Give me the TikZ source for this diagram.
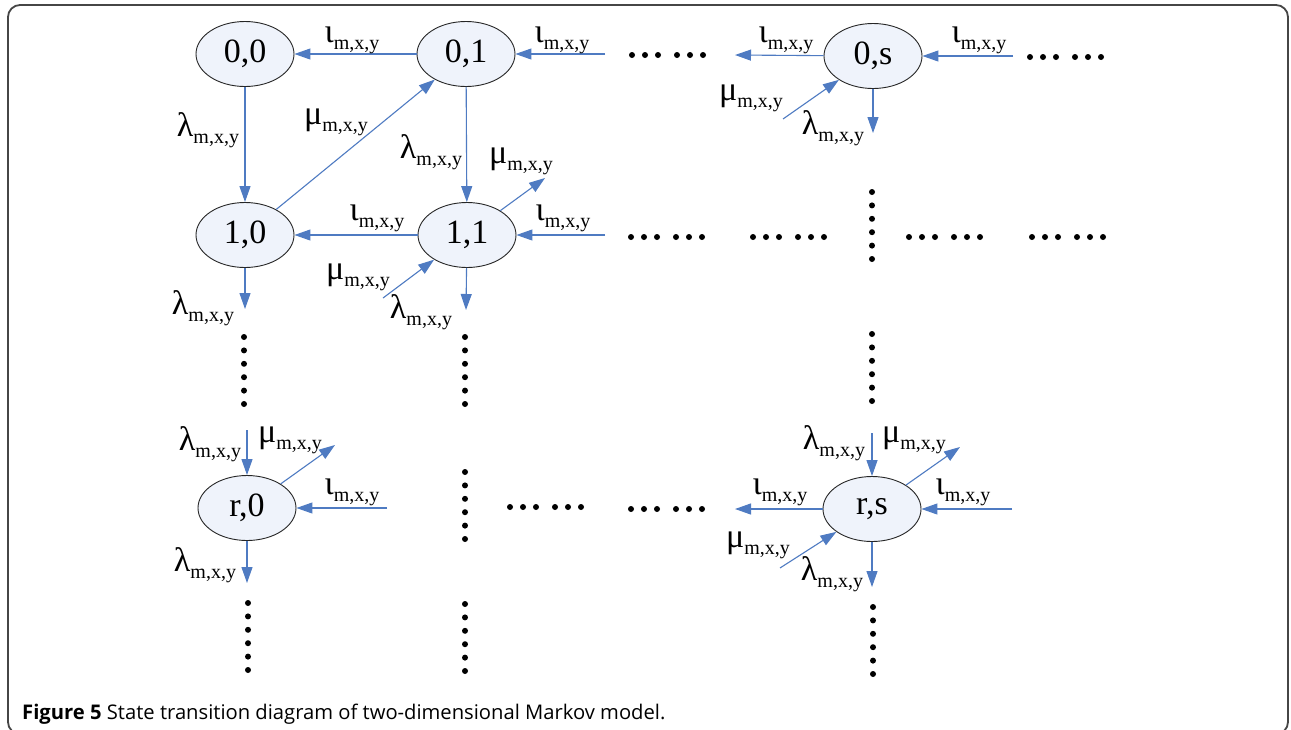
\documentclass[tikz,border=0pt]{standalone}
\usepackage{fontspec}
\setmainfont{Liberation Serif}
\newfontfamily\capfont{Open Sans}
\usetikzlibrary{shapes.geometric,arrows.meta}
\definecolor{arrowblue}{RGB}{79,123,194}
\definecolor{nodefill}{RGB}{239,243,251}
\definecolor{framegray}{RGB}{70,70,70}
\newcommand\rlab[1]{{\fontsize{34}{34}\selectfont #1}\raisebox{-7pt}{\fontsize{20}{20}\selectfont m,x,y}}
\newcommand\hdotrow[2]{\foreach \d in {0,13,26,45,58,71}{\fill (#1+\d,#2) circle[radius=3];}}
\newcommand\vdotcol[2]{\foreach \d in {0,13.4,26.8,40.2,53.6,67}{\fill (#1,#2+\d) circle[radius=3];}}
\tikzset{
  state/.style={ellipse, draw=black!85, line width=0.9pt, fill=nodefill,
    minimum width=98pt, minimum height=65pt, inner sep=0pt,
    font=\fontsize{34}{34}\selectfont},
  arr/.style={draw=arrowblue, line width=1.1pt, -{Triangle[length=16pt,width=11pt]}},
  lab/.style={inner sep=0pt, anchor=center}
}
\begin{document}
\begin{tikzpicture}[x=1pt,y=-1pt]
\useasboundingbox (0,0) rectangle (1291,729);
\fill[white] (0,0) rectangle (1291,729);
\begin{scope}
\clip (0,0) rectangle (1291,729);
\draw[framegray, line width=1.8pt, rounded corners=12pt] (8,5) rectangle (1288,734);
\end{scope}

% states
\node[state] (n00) at (245,54) {0,0};
\node[state] (n01) at (466,54) {0,1};
\node[state] (n10) at (245,235) {1,0};
\node[state] (n11) at (467,235) {1,1};
\node[state] (n0s) at (873,56) {0,s};
\node[state] (nr0) at (247,508) {r,0};
\node[state] (nrs) at (872,509) {r,s};

% free ends
\coordinate (a1) at (605,54);
\coordinate (a2) at (605,235);
\coordinate (a3) at (545,178);
\coordinate (a4) at (383,298);
\coordinate (a5) at (466,310);
\coordinate (a6) at (245,309);
\coordinate (b1) at (735,55);
\coordinate (b2) at (1013,56);
\coordinate (b3) at (783,119);
\coordinate (b4) at (873,133);
\coordinate (c1) at (247,430);
\coordinate (c2) at (335,445);
\coordinate (c3) at (387,508);
\coordinate (c4) at (247,583);
\coordinate (d1) at (872,433);
\coordinate (d2) at (960,447);
\coordinate (d3) at (735,509);
\coordinate (d4) at (1012,509);
\coordinate (d5) at (780,568);
\coordinate (d6) at (872,587);

% connectors
\draw[arr] (n01) -- (n00);
\draw[arr] (a1) -- (n01);
\draw[arr] (n00) -- (n10);
\draw[arr] (n10) -- (n01);
\draw[arr] (n01) -- (n11);
\draw[arr] (n11) -- (a3);
\draw[arr] (n11) -- (n10);
\draw[arr] (a2) -- (n11);
\draw[arr] (a4) -- (n11);
\draw[arr] (n11) -- (a5);
\draw[arr] (n10) -- (a6);
\draw[arr] (n0s) -- (b1);
\draw[arr] (b2) -- (n0s);
\draw[arr] (b3) -- (n0s);
\draw[arr] (n0s) -- (b4);
\draw[arr] (c1) -- (nr0);
\draw[arr] (nr0) -- (c2);
\draw[arr] (c3) -- (nr0);
\draw[arr] (nr0) -- (c4);
\draw[arr] (d1) -- (nrs);
\draw[arr] (nrs) -- (d2);
\draw[arr] (nrs) -- (d3);
\draw[arr] (d4) -- (nrs);
\draw[arr] (d5) -- (nrs);
\draw[arr] (nrs) -- (d6);

% labels
\node[lab] (l1) at (352,40) {\rlab{ι}};
\node[lab] (l2) at (562,40) {\rlab{ι}};
\node[lab] (l3) at (208,130) {\rlab{λ}};
\node[lab] (l4) at (336,122) {\rlab{μ}};
\node[lab] (l5) at (431,152) {\rlab{λ}};
\node[lab] (l6) at (521,161) {\rlab{μ}};
\node[lab] (l7) at (377,218) {\rlab{ι}};
\node[lab] (l8) at (563,218) {\rlab{ι}};
\node[lab] (l9) at (358,277) {\rlab{μ}};
\node[lab] (l10) at (421,312) {\rlab{λ}};
\node[lab] (l11) at (203,308) {\rlab{λ}};
\node[lab] (l12) at (786,40) {\rlab{ι}};
\node[lab] (l13) at (979,40) {\rlab{ι}};
\node[lab] (l14) at (751,98) {\rlab{μ}};
\node[lab] (l15) at (833,128) {\rlab{λ}};
\node[lab] (l16) at (210,444) {\rlab{λ}};
\node[lab] (l17) at (290,440) {\rlab{μ}};
\node[lab] (l18) at (352,492) {\rlab{ι}};
\node[lab] (l19) at (205,565) {\rlab{λ}};
\node[lab] (l20) at (834,443) {\rlab{λ}};
\node[lab] (l21) at (914,440) {\rlab{μ}};
\node[lab] (l22) at (780,492) {\rlab{ι}};
\node[lab] (l23) at (963,492) {\rlab{ι}};
\node[lab] (l24) at (758,545) {\rlab{μ}};
\node[lab] (l25) at (832,574) {\rlab{λ}};

% ellipsis dots
\hdotrow{632}{55}
\hdotrow{1030}{57}
\hdotrow{631}{237}
\hdotrow{753}{237}
\hdotrow{909}{237}
\hdotrow{1032}{237}
\hdotrow{510}{507}
\hdotrow{631}{509}
\vdotcol{244}{337}
\vdotcol{465}{337}
\vdotcol{872}{192}
\vdotcol{872}{334}
\vdotcol{465}{472}
\vdotcol{465}{604}
\vdotcol{248}{603}
\vdotcol{873}{607}

% caption
\node[anchor=base west, inner sep=0pt, font=\capfont\fontsize{20.2}{20.2}\selectfont] (cap) at (22,719)
  {\textbf{Figure 5} State transition diagram of two-dimensional Markov model.};
\end{tikzpicture}
\end{document}
